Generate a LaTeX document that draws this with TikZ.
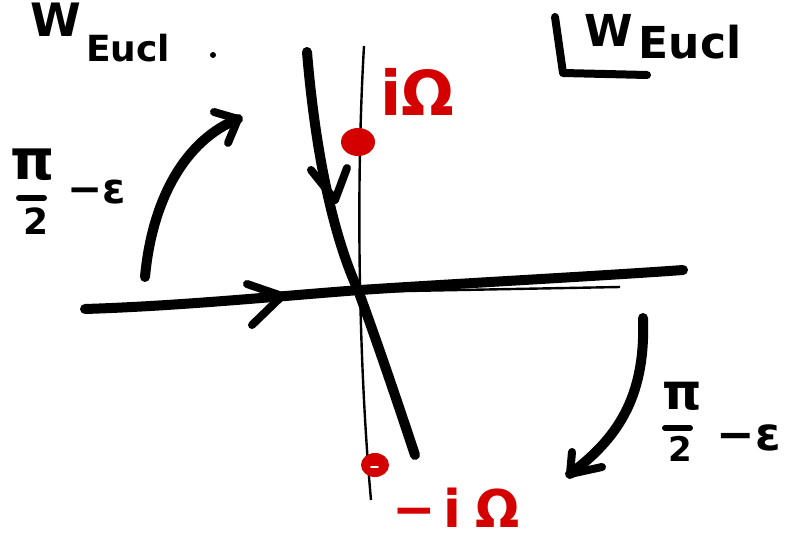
\documentclass[tikz,border=0pt]{standalone}
\usepackage{fontspec}
\setmainfont{DejaVu Sans}
\definecolor{redink}{RGB}{212,0,0}
\begin{document}
\begin{tikzpicture}[x=1pt,y=-1pt,
  ink/.style={line width=10pt,line cap=round,line join=round},
  tip/.style={line width=8pt,line cap=round,line join=round},
  thinline/.style={line width=2.4pt},
  lbl/.style={inner sep=0pt,font=\bfseries\fontsize{#1}{#1}\selectfont},
  rlbl/.style={inner sep=0pt,text=redink,font=\bfseries\fontsize{#1}{#1}\selectfont}]
\useasboundingbox (0,0) rectangle (791,540);
% thin axes
\coordinate (vt) at (364,46);
\coordinate (vb) at (371,500);
\draw[thinline] (vt) .. controls (355,200) and (360,380) .. (vb);
\coordinate (hl) at (300,293);
\coordinate (hr) at (620,287);
\draw[thinline] (hl) -- (hr);
% thick contour (rotated)
\coordinate (ct) at (307,52);
\coordinate (cm) at (358,290);
\coordinate (cb) at (415,455);
\draw[ink] (ct) .. controls (316,160) and (335,240) .. (cm) .. controls (380,350) and (400,410) .. (cb);
\coordinate (ca1) at (311,170);
\coordinate (ca) at (335,200);
\coordinate (ca2) at (347,168);
\draw[tip] (ca1) -- (ca) -- (ca2);
% thick real line
\coordinate (hL) at (85,309);
\coordinate (hM) at (360,290);
\coordinate (hR) at (683,270);
\draw[ink] (hL) .. controls (180,306) and (280,296) .. (hM) .. controls (450,284) and (600,276) .. (hR);
\coordinate (ha1) at (247,284);
\coordinate (ha) at (282,296);
\coordinate (ha2) at (252,325);
\draw[tip] (ha1) -- (ha) -- (ha2);
% left rotation arrow
\coordinate (la0) at (145,277);
\coordinate (la) at (238,119);
\draw[ink] (la0) .. controls (152,200) and (185,140) .. (la);
\coordinate (laa1) at (214,112);
\coordinate (laa2) at (228,143);
\draw[tip] (laa1) -- (la) -- (laa2);
% right rotation arrow
\coordinate (ra0) at (643,318);
\coordinate (ra) at (570,474);
\draw[ink] (ra0) .. controls (646,400) and (615,440) .. (ra);
\coordinate (raa1) at (572,452);
\coordinate (raa2) at (602,467);
\draw[tip] (raa1) -- (ra) -- (raa2);
% L corner
\coordinate (L1) at (555,17);
\coordinate (L2) at (563,73);
\coordinate (L3) at (647,75);
\draw[ink,line width=8pt] (L1) -- (L2) -- (L3);
% red poles
\fill[redink] (358,142) ellipse [x radius=17, y radius=14];
\fill[redink] (375,465) ellipse [x radius=14, y radius=12];
\coordinate (w1) at (371,467);
\coordinate (w2) at (378,467);
\draw[white,line width=1.6pt,line cap=round] (w1) -- (w2);
% labels
\node[lbl=46] (W1) at (56,20) {W};
\node[lbl=36] (E1) at (128,48) {Eucl};
\fill (213,55) circle (3);
\node[lbl=44] (W2) at (609,30) {W};
\node[lbl=44] (E2) at (690,42) {Eucl};
\node[rlbl=62] (ip) at (417,92) {iΩ};
\node[rlbl=52] (im) at (456,508) {−\hspace{8pt}i\hspace{14pt}Ω};
% left fraction
\node[lbl=56] (pi1) at (33,165) {π};
\coordinate (b1l) at (19,198);
\coordinate (b1r) at (44,198);
\draw[line width=6pt,line cap=round] (b1l) -- (b1r);
\node[lbl=36] (two1) at (36,221) {2};
\node[lbl=42] (me1) at (97,192) {−ε};
% right fraction
\node[lbl=50] (pi2) at (682,396) {π};
\coordinate (b2l) at (665,428);
\coordinate (b2r) at (690,428);
\draw[line width=6pt,line cap=round] (b2l) -- (b2r);
\node[lbl=34] (two2) at (680,449) {2};
\node[lbl=46] (me2) at (749,438) {−ε};
\end{tikzpicture}
\end{document}
